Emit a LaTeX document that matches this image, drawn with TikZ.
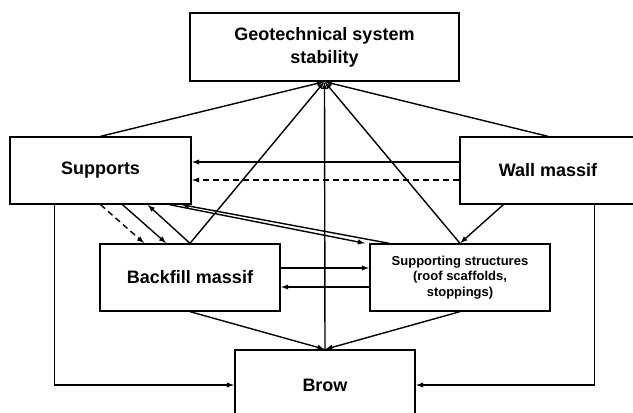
\documentclass[tikz,border=0pt]{standalone}
\usepackage{fontspec}
\setmainfont{Liberation Sans}
\usepackage{tikz}
\usetikzlibrary{arrows}

\begin{document}
\begin{tikzpicture}[x=1pt,y=-1pt,>=latex,
        block/.style={draw,line width=1.3pt,inner sep=0pt,align=center,
                      font=\bfseries\fontsize{18}{23}\selectfont},
        smallblock/.style={block,font=\bfseries\fontsize{13}{15.5}\selectfont},
        link/.style={line width=1.4pt,->,shorten >=0.5pt}]
                    \useasboundingbox (0,0) rectangle (633,413);

                    % boxes
                    \node[block,minimum width=269pt,minimum height=68pt] (geo) at (324.5,47) {Geotechnical system\\stability};
                    \node[block,minimum width=181pt,minimum height=67pt] (supports) at (100.5,170.5) {Supports};
                    \node[block,minimum width=176pt,minimum height=67pt] (wall) at (548,170.5) {Wall massif};
                    \node[block,minimum width=180pt,minimum height=67pt] (backfill) at (190,277.5) {Backfill massif};
                    \node[smallblock,minimum width=180pt,minimum height=67pt] (structs) at (460,277.5) {Supporting structures\\(roof scaffolds,\\stoppings)};
                    \node[block,minimum width=180pt,minimum height=70pt] (brow) at (325,385) {Brow};

                    % to the stability box
                    \draw[link] (supports.north) -- (geo.south);
                    \draw[link] (wall.north) -- (geo.south);
                    \draw[link] (backfill.north) -- (geo.south);
                    \draw[link] (structs.north) -- (geo.south);
                    \draw[link] (brow.north) -- (geo.south);

                    % wall massif to supports
                    \draw[link] ([yshift=8.5pt]wall.west) -- ([yshift=8.5pt]supports.east);
                    \draw[link,dashed,dash pattern=on 6pt off 4pt] ([yshift=-9.5pt]wall.west) -- ([yshift=-9.5pt]supports.east);
                    \draw[link] ([xshift=44pt]wall.south west) -- (structs.north);

                    % supports and backfill
                    \draw[link,dashed,dash pattern=on 6pt off 4pt] (supports.south) -- ([xshift=45pt]backfill.north west);
                    \draw[link] ([xshift=22pt]supports.south) -- ([xshift=67pt]backfill.north west);
                    \draw[link] (backfill.north) -- ([xshift=47pt]supports.south);

                    % supports and supporting structures
                    \draw[link] ([xshift=160pt]supports.south west) -- ([xshift=-4pt]structs.north west);
                    \draw[link] ([xshift=20pt]structs.north west) -- ([xshift=172pt]supports.south west);

                    % backfill and supporting structures
                    \draw[link] ([yshift=9.5pt]backfill.east) -- ([yshift=9.5pt]structs.west);
                    \draw[link] ([yshift=-9.5pt]structs.west) -- ([yshift=-9.5pt]backfill.east);

                    % to the brow
                    \draw[link] (backfill.south) -- (brow.north);
                    \draw[link] (structs.south) -- (brow.north);
                    \draw[link] ([xshift=45pt]supports.south west) |- (brow.west);
                    \draw[link] ([xshift=135pt]wall.south west) |- (brow.east);
                \end{tikzpicture}
\end{document}
